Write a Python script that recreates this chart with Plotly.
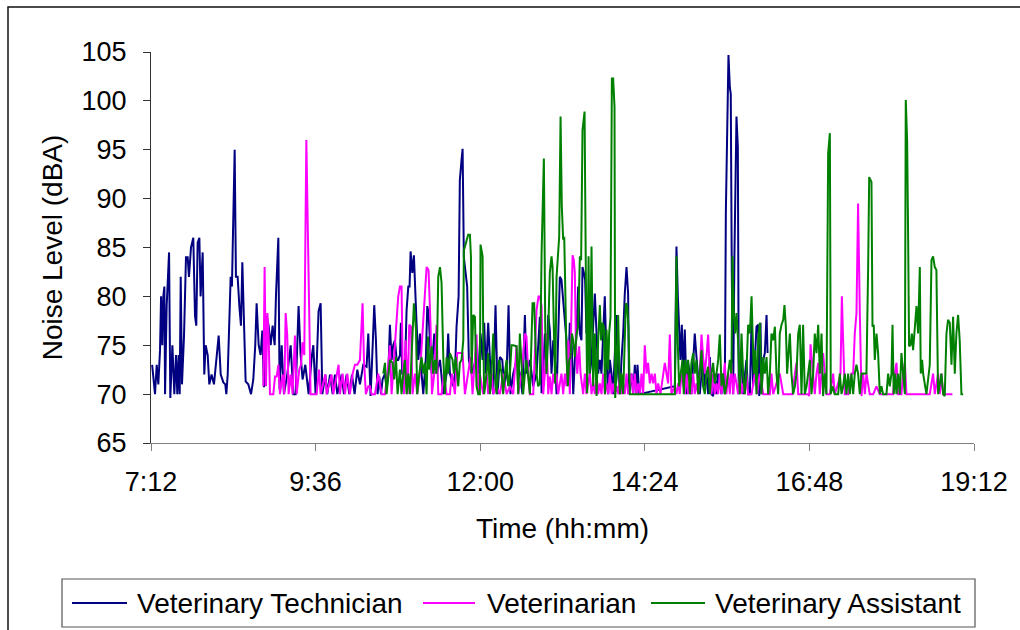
import pandas as pd
import plotly.graph_objects as go

# ---------------- data: (minute of day, dBA) ----------------
tech = [
    (433, 73), (435.5, 70), (437, 73), (438.4, 71), (439.9, 74.5), (440.8, 80), (441.9, 75), (442.8, 80),
    (443.7, 81), (444.3, 70), (445.7, 79), (447.8, 84.5), (448.9, 69.6), (450.7, 75), (452.4, 70), (453.9, 74),
    (455, 70), (456.2, 74), (457.1, 70), (458, 82), (459.1, 71), (460.9, 76), (462.6, 84), (464.1, 84),
    (465.2, 82), (467, 85), (469, 86), (470.5, 78), (471.6, 77), (472.8, 85.5), (474.3, 86), (475.4, 80),
    (477.2, 84.5), (478.6, 72), (479.8, 75), (481.6, 74), (483, 71), (485, 72), (487.1, 71), (489.4, 74),
    (491.2, 76), (493, 72), (495.3, 71.2), (497, 71), (497.9, 70), (499.1, 72), (500.2, 77.5), (501.7, 82),
    (502.8, 81), (504, 89), (505.2, 95), (506.3, 82), (507.8, 82), (509.3, 79), (510.7, 77), (511.9, 83.5),
    (513.3, 77), (514.8, 71.3), (517.1, 71), (519.5, 70), (521.5, 71.5), (523.2, 75), (524.4, 79.3), (526.2, 75),
    (527.9, 74), (529.4, 76.5), (530.8, 70.7), (533.2, 78), (534.9, 77), (536.7, 75), (538.4, 77), (540.2, 75),
    (541.3, 80), (543.4, 86), (544.5, 70.5), (546.3, 75), (548.3, 70), (551.2, 72), (554.2, 75), (556.5, 70),
    (558.5, 70), (560, 76.5), (561.1, 79), (562.9, 74), (564.6, 71.5), (567, 73), (569.9, 70), (572.8, 74),
    (574, 75), (576, 70), (578.6, 78.5), (580.4, 79.3), (581.9, 70), (584.5, 72), (586.2, 70), (588.6, 72),
    (590.9, 70), (592.9, 72), (595, 70),
    (598.8, 72), (600.8, 70), (603.1, 72), (605.5, 70), (607.8, 72), (610.1, 70), (612.5, 72.5), (614.8, 71),
    (617.7, 73), (620.6, 72.8), (622.1, 76.2), (624.1, 69.8), (625.6, 74), (627.3, 79.1), (628.8, 75.5), (630.2, 70),
    (631.7, 71.8), (633.2, 70), (634.6, 71.5), (636.7, 72.1), (638.1, 70.5), (639.6, 72.1), (641, 77.1), (642.5, 73.5),
    (643.9, 75), (645.4, 75.5), (646.9, 73.5), (648.3, 73.5), (649.8, 74), (650.6, 77.3), (651.8, 72.1), (653.3, 72.1),
    (654.4, 73.5), (655.6, 78.6), (657.1, 81), (658.2, 81), (659.1, 84.6), (660.6, 82.4), (662, 84.2), (663.2, 80),
    (664.3, 77.3), (665.8, 73.5), (667.3, 76.2), (668.7, 72.1), (670.2, 70), (672.5, 73.8), (673.7, 79), (674.8, 78.3),
    (676, 75.5), (677.5, 72.1), (679.8, 76.2), (681.8, 72.1), (684.8, 73.5), (687.7, 70), (690.6, 72.1), (692, 76.2),
    (693.5, 72.1), (696.4, 70.8), (697.9, 72.1), (699.3, 76.9), (701.1, 80), (702.2, 91.9), (703.7, 94), (704.6, 95.1),
    (705.7, 84), (707.2, 82), (708.6, 81), (710.1, 73.5), (712.4, 72.1), (715.4, 73.2), (718.3, 72.1), (720.3, 76.2),
    (722.1, 73.5), (723.5, 77.3), (725, 72.1), (727, 77.3), (729.1, 72.1), (731.4, 70), (733.4, 79.1), (735.2, 70),
    (737.2, 73.8), (739.3, 73.5), (741, 70.8), (743.1, 72.1), (744.8, 79.1), (746.5, 70), (748.9, 72.1), (751.8, 73.5),
    (754.7, 72.1), (757, 70), (759.1, 78.1), (760.5, 72.1), (763.5, 73.5), (766.4, 70.8), (769.3, 72.1),
    (772.2, 77.9), (773.7, 70.1), (775.1, 72.1), (776.6, 76.2), (778, 72.1), (779.5, 78.1), (780.9, 76.6), (782.4, 72.1),
    (783.9, 75.5), (785.3, 73.8), (786.8, 70), (788.2, 76.6), (789.7, 82), (791.1, 81.7), (792, 80.3), (793.2, 78.1),
    (794.4, 76.9), (795.5, 75.5), (797, 72.1), (798.4, 77.3), (799.9, 75.5), (801.4, 70), (802.8, 73.5), (804.3, 76.2),
    (805.7, 81), (807.2, 76.2), (808.6, 75.5), (809.5, 83), (810.7, 82.4), (811.8, 81.7), (813, 76.2), (814.5, 76.6),
    (815.9, 72.1), (817.4, 73.5), (818.8, 76.9), (820.3, 80.3), (821.8, 76.2), (823.2, 72.1), (824.7, 73.5), (826.1, 72.1),
    (827.6, 76.2), (829, 80), (830.5, 73.5), (832, 70), (833.4, 73.5), (834.9, 72.1), (836.3, 70), (837.8, 73.8),
    (839.2, 78.1), (840.7, 72.1), (842.2, 70), (843.6, 73.5), (845.1, 76.2), (846.5, 80.3), (848, 83), (849.4, 80.3),
    (850.3, 70), (852.4, 72.1), (853.8, 70), (855.3, 73), (856.7, 70), (857.6, 73), (859.1, 70),
    (890.3, 70.8), (891.7, 85.1), (892.9, 80), (894, 76.6), (895.2, 73.5), (896.4, 77.1), (897.5, 72.1), (899, 76.6),
    (900.5, 70), (901.9, 73.2), (903.4, 72.1), (904.8, 70), (906.3, 73.5), (907.7, 76.2), (909.2, 73.8), (910.7, 72.1),
    (912.1, 70), (913.6, 72.1), (915, 73.5), (916.5, 70.8), (917.9, 72.1), (919.4, 70), (920.9, 73.8), (922.3, 70),
    (923.8, 69.8), (925.2, 72.1), (926.7, 70), (928.2, 72.1), (929.6, 70.8), (931.1, 70), (932.5, 72.1), (934, 70),
    (934.9, 88.5), (936.3, 99.4), (937.2, 104.7), (938.4, 101.4), (939.2, 100.7), (940.1, 82.4), (941.3, 70), (942.4, 84.1),
    (943.6, 96), (944.2, 98.4), (945.4, 95.3), (946.2, 70), (947.1, 72.1), (948.6, 73.5), (950, 70), (951.5, 72.1),
    (952.9, 73.5), (954.4, 70),
    (955.9, 70), (957.4, 77.3), (958.8, 70.8), (960.3, 73.5), (961.7, 76.9), (963.2, 77.1), (964.1, 69.8), (965.2, 77.3),
    (966.1, 70), (967.6, 73.5), (969, 74.2), (970.5, 78.1), (971.4, 74.2),
]

vet = [
    (530.3, 70.8), (531.4, 83), (532.6, 70.8), (533.8, 78.3), (534.9, 76), (536.1, 70), (539, 70), (540.5, 71.8),
    (542, 71.8), (543.4, 73), (544.8, 70), (547.2, 72), (548.6, 70), (549.8, 78.3), (551.2, 76), (552.4, 70),
    (554.2, 72), (555.9, 70), (557.9, 76), (559.4, 70), (561.7, 72.5), (563.2, 73), (564.6, 75.3), (566.1, 74),
    (567.9, 96), (571.6, 70), (574, 70), (576.9, 70), (579, 72.5), (580.4, 70), (584.5, 72), (585.6, 70),
    (590, 72), (591.5, 70), (596.1, 73),
    (597.3, 70), (599.6, 72.1), (601.7, 70), (603.7, 72.1), (606, 70), (608.4, 72.1), (610.4, 73), (612.5, 73),
    (614.8, 73.5), (617.1, 79.3), (618.3, 73.5), (620, 70), (622.1, 70.8), (623.5, 70.8), (625, 70), (627.9, 70),
    (630.8, 72.1), (633.7, 70), (636.7, 70), (639.6, 73), (641, 75), (642.5, 70), (643.9, 72.1), (646.3, 76.6),
    (648.3, 80), (649.8, 81), (651.2, 81), (652.1, 73.5), (653.3, 70), (654.7, 75.5), (656.5, 70), (657.9, 77.1),
    (659.4, 76.9), (660.8, 70), (662.9, 72.1), (664.9, 70), (667.3, 72.1), (670.2, 77.6), (671.6, 80.3), (673.1, 83),
    (674.8, 82.7), (676.6, 76.9), (677.8, 70), (679.8, 72.1), (681.8, 77.1), (683.3, 70), (686.2, 70), (688.2, 72.1),
    (690.6, 70), (693.5, 70), (695.2, 72.1), (697.9, 70), (699.9, 74.2), (702.2, 74.2), (704.6, 74.2), (706.6, 70),
    (709.5, 72.1), (711.6, 73.8), (713.3, 70), (715.4, 73.5), (716.8, 76.1), (718.3, 70), (719.7, 72.1), (722.6, 70),
    (725.6, 72.1), (727, 70), (730, 72.1), (731.4, 70), (734.3, 70.8), (737.2, 70), (740.1, 72.1), (743.1, 70),
    (746, 70.8), (748.9, 70), (751.8, 75), (753.3, 70), (756.2, 72.1), (759.1, 76.2), (760.5, 75.9), (762, 72.1),
    (763.5, 70), (766.4, 70), (769.3, 78.6), (771, 80),
    (772.2, 80), (773.7, 79), (775.1, 70), (776.6, 72.1), (778, 76.2), (779.5, 70), (780.9, 71.8), (782.4, 70),
    (783.9, 72.1), (785.3, 71.1), (786.8, 72.1), (788.2, 70), (789.7, 71.1), (791.1, 72.1), (792.6, 70), (794.1, 72.1),
    (795.5, 70.8), (797, 75.5), (798.4, 70), (799.9, 78.3), (800.8, 84.2), (801.9, 83.7), (802.8, 82.4), (803.7, 75.5),
    (804.9, 72.1), (806.6, 74.9), (807.8, 72.1), (808.9, 71.1), (810.1, 70), (811.6, 72.1), (813, 70), (814.5, 71.1),
    (815.9, 72.1), (817.4, 70), (818.8, 71.1), (820.3, 70), (821.8, 72.1), (823.2, 70), (824.7, 71.1), (826.1, 70),
    (827.6, 72.1), (829, 70), (830.5, 71.1), (832, 70), (833.4, 72.1), (834.9, 70), (836.3, 71.1), (837.8, 70),
    (839.2, 70.8), (840.7, 70), (842.2, 72.1), (843.6, 70), (845.1, 71.1), (846.5, 70), (848, 72.1), (849.4, 70),
    (850.9, 71.1), (852.4, 72.1), (853.8, 70), (855.3, 72.1), (856.7, 70), (858.2, 71.1), (859.7, 70), (861.1, 72.1),
    (862.6, 70), (864, 75), (865.5, 72.1), (866.9, 73.2), (868.4, 71.1), (869.9, 72.1), (871.3, 71.1), (872.8, 72.1),
    (874.2, 70), (875.7, 71.1), (877.7, 70), (880.1, 72.1), (881.5, 73.2), (883, 72.1), (884.4, 71.1), (885.9, 76.1),
    (887.3, 70), (890.3, 70.8), (891.7, 70), (893.2, 71.1), (894.6, 70), (896.1, 72.1), (897.5, 71.1), (899, 70),
    (900.5, 72.1), (901.9, 70), (903.4, 71.1), (904.8, 70), (906.3, 72.1), (907.7, 70), (909.2, 71.1), (910.7, 70),
    (912.1, 72.1), (913.6, 76.1), (915, 73.8), (916.5, 72.1), (917.9, 73.8), (919.4, 76.1), (920.9, 72.1), (922.3, 70),
    (923.8, 72.1), (925.2, 70), (926.7, 71.1), (928.2, 70), (929.6, 72.1), (931.1, 70), (932.5, 71.1), (934, 73.2),
    (935.4, 70), (936.9, 72.1), (938.4, 70), (939.8, 73.2), (941.3, 70), (942.7, 72.1), (944.2, 71.1), (945.6, 70),
    (947.1, 72.1), (948.6, 70), (950, 71.1), (951.5, 70), (952.9, 72.1), (954.4, 70),
    (957.4, 70), (960.3, 72.1), (962.3, 70), (964.6, 72.1), (967.6, 70), (970.5, 70), (973.4, 70), (974.8, 72.1),
    (976.3, 70), (979.2, 71.1), (982.1, 72.1), (985.1, 70), (988, 70), (990.9, 70), (993.2, 70), (995.3, 72.1),
    (996.7, 73.2), (998.2, 70), (1001.1, 70), (1004, 70), (1006.9, 70), (1007.8, 69.8), (1009, 75.1), (1010.1, 73.5),
    (1011.3, 72.1), (1012.7, 70), (1014.2, 72.1), (1015.7, 73.2), (1017.1, 70), (1020, 74.2), (1021.5, 72.1), (1022.9, 70),
    (1025.9, 70), (1028.8, 72.1), (1030.2, 70), (1033.2, 71.1), (1035.2, 72.1), (1036.4, 80), (1037.5, 75.5), (1039, 70),
    (1041.9, 70), (1044.8, 72.1), (1046.3, 72.1), (1047.7, 76.2), (1049.2, 78.3), (1050.6, 89.5), (1052.1, 78.3), (1053.6, 69.8),
    (1055, 72.1), (1056.5, 70), (1057.9, 72.1), (1059.4, 71.1), (1060.8, 70), (1063.8, 70), (1066.7, 70.8), (1069.6, 70),
    (1072.5, 70), (1075.4, 70), (1078.3, 70), (1081.2, 70), (1082.7, 72.1), (1084.2, 73.2), (1085.6, 70), (1088.5, 70),
    (1090, 72.1), (1091.5, 73.2), (1092.9, 70), (1095.8, 70), (1098.7, 70), (1101.7, 70), (1104.6, 70), (1107.5, 70),
    (1110.4, 70), (1113.3, 70), (1116.2, 72.1), (1117.7, 70), (1120.6, 72.1), (1122.1, 70), (1123.5, 72.1), (1125, 70),
    (1127.9, 70), (1130.8, 70), (1133.1, 70),
]

assistant = [
    (635.2, 72.1), (636.7, 73.2), (638.1, 70), (639.6, 72.1), (641, 73.5), (643.4, 73.2), (644.8, 71.5), (646.3, 73.8),
    (647.7, 70), (649.8, 72.5), (651.2, 70), (652.7, 72.1), (654.1, 73.5), (655.6, 70), (657.1, 72.1), (658.5, 70),
    (660, 74.5), (662, 79.3), (663.8, 76.6), (664.9, 70), (666.7, 72.1), (668.7, 73.8), (670.2, 72.1), (671.6, 73.2),
    (673.1, 70), (674.3, 75.9), (675.4, 72.5), (677.5, 74.9), (678.9, 72.1), (680.4, 73.5), (681.8, 72.1), (683.3, 82),
    (684.8, 83), (686.2, 81.4), (687.7, 73.8), (689.1, 70), (690.6, 73.8), (692, 72.1), (693.5, 74.2), (695.8, 73.5),
    (697, 72.1), (698.7, 73.8), (700.8, 70.8), (702.2, 73.2), (703.7, 73.5), (705.2, 75.5), (705.7, 84.7), (707.5, 85.4),
    (709.5, 86.3), (711, 86.3), (711.9, 84.1), (712.4, 72.1), (713.9, 78.1), (715.4, 77.9), (716.8, 70.8), (718.3, 70),
    (719.7, 70), (720.3, 85.3), (722.1, 84.1), (722.6, 76.6), (723.5, 70), (725.6, 72.1), (727, 74.2), (728.5, 70),
    (729.9, 72.1), (731.4, 76.2), (732.8, 72.1), (734.3, 70), (736.6, 73.5), (738.7, 72.1), (740.1, 70), (741.6, 72.1),
    (743.1, 73.5), (744.5, 70.8), (746, 72.1), (747.4, 75), (748.9, 75), (751.8, 74.9), (753.3, 70), (754.7, 76.2),
    (756.2, 72.1), (757.6, 70), (759.1, 72.1), (760.5, 73.5), (763.5, 70), (765.8, 79.3), (767.2, 79.3), (769.3, 72.1),
    (770.7, 70.8),
    (772.2, 71.1), (773.7, 84.4), (775.7, 94.1), (776.9, 76.9), (778, 72.1), (779.5, 76.2), (780.9, 82.4), (782.4, 84.1),
    (783.3, 83), (784.4, 76.9), (785.6, 71.1), (786.8, 82), (788.2, 84.1), (789.1, 86.1), (790.3, 98.4), (791.4, 89.2),
    (792.6, 85.8), (793.5, 86.1), (794.4, 81), (795.5, 73.8), (796.7, 70.8), (797.9, 73.5), (799, 73.8), (800.2, 76.2),
    (801.4, 75.5), (802.8, 73.8), (804.3, 76.2), (805.7, 76.9), (807.2, 84.1), (808.3, 83.7), (809.5, 97), (811.3, 98.9),
    (812.4, 82.7), (813.6, 70.1), (814.8, 84.1), (815.9, 72.1), (817.4, 85.1), (818.8, 70.8), (820.3, 76.2), (821.8, 69.8),
    (823.2, 75.5), (824.7, 79.1), (825.8, 75.5), (827, 77.3), (828.2, 76.9), (829.3, 70), (830.5, 76.6), (832, 72.5),
    (832.8, 76.2), (834, 77.9), (835.2, 102.3), (836.3, 102.3), (837.5, 99.4), (838.1, 69.6), (839.2, 72.1), (840.7, 78.1),
    (842.2, 70), (843.6, 72.1), (845.1, 70), (846.5, 76.6), (847.4, 79.3), (848.6, 79), (849.7, 76.9), (850.9, 70),
    (890.3, 70), (891.7, 84.1), (892.6, 76.2), (894, 70.8), (895.2, 72.1), (897, 73.5), (898.1, 70), (899.3, 73.5),
    (900.5, 72.1), (901.9, 73.5), (903.4, 70), (904.8, 73.2), (906.3, 74.2), (907.7, 72.1), (909.2, 73.5), (910.7, 70),
    (912.1, 72.1), (913.6, 74.5), (915, 70.8), (916.5, 70), (917.9, 72.1), (919.4, 72.8), (920.9, 70), (922.3, 72.1),
    (923.8, 73.2), (925.2, 71.1), (926.7, 72.1), (928.2, 73.5), (929.6, 76.1), (931.1, 70.8), (932.5, 72.1), (934, 70),
    (935.4, 70.8), (936.9, 72.1), (938.4, 73.5), (939.8, 72.1), (940.7, 84.1), (941.9, 78.3), (943, 76.2), (944.2, 78.3),
    (945.6, 75.5), (947.1, 70), (948.6, 76.2), (950, 72.1), (951.5, 70), (952.9, 72.1), (954.4, 77.1),
    (955.9, 76.2), (957.4, 80), (958.2, 76.6), (959.4, 72.1), (960.6, 74.5), (961.7, 70), (963.2, 75.5), (964.6, 77.3),
    (966.1, 70), (967.6, 73.8), (969, 72.1), (970.5, 73.8), (971.9, 70), (973.4, 72.1), (974.8, 76.2), (976.3, 75.5),
    (977.8, 76.9), (979.2, 72.1), (980.7, 70), (982.1, 76.2), (983.6, 77.1), (985.1, 77.6), (986.2, 79.1), (987.4, 76.9),
    (988.5, 72.1), (989.7, 74.2), (990.9, 76.2), (992.3, 72.1), (993.8, 70), (995.3, 70.8), (996.7, 72.1), (998.2, 76.2),
    (999.6, 77.1), (1001.1, 70), (1002.5, 77.1), (1004, 70), (1005.5, 70.8), (1006.9, 72.1), (1008.4, 73.5), (1009.8, 70),
    (1011.3, 72.1), (1012.7, 76.2), (1014.2, 74.2), (1015.7, 77.1), (1017.1, 72.1), (1018.6, 76.2), (1020, 69.8), (1021.5, 72.1),
    (1022.9, 70), (1024.4, 94.6), (1025.9, 96.7), (1026.7, 70), (1028.2, 70.8), (1030.2, 70), (1033.2, 70), (1034.6, 72.1),
    (1036.1, 70), (1037.5, 70.8), (1039, 72.1), (1040.4, 70), (1041.9, 72.1), (1043.4, 70), (1044.8, 72.1), (1046.3, 70),
    (1047.7, 72.1), (1049.2, 73), (1050.6, 72.1), (1052.1, 70), (1053.6, 72.1), (1056.5, 72.1), (1057.9, 72.1), (1059.4, 83),
    (1060.3, 92.2), (1061.4, 91.9), (1062.3, 91.7), (1063.2, 76.9), (1064.3, 77.1), (1065.2, 73.5), (1066.7, 76.2), (1068.1, 74.2),
    (1069.6, 70), (1071, 70.8), (1072.5, 70), (1075.4, 70), (1076.9, 72.1), (1078.3, 70.8), (1079.8, 72.1), (1080.7, 77.1),
    (1081.8, 70), (1083, 72.1), (1084.2, 70), (1085.6, 72.1), (1087.1, 70), (1088.5, 74.2), (1090, 72.1), (1091.5, 70),
    (1092.3, 100.1), (1093.5, 96), (1094.4, 85.8), (1095.2, 74.9), (1096.4, 75), (1097.6, 76.2), (1098.7, 74.5), (1100.2, 76.9),
    (1101.7, 79), (1103.1, 76.2), (1104.6, 83), (1105.4, 72.1), (1106.6, 73.5), (1107.5, 72.1), (1108.9, 71.1), (1110.4, 70),
    (1113.3, 73), (1114.8, 83.7), (1116.2, 84.1), (1117.7, 83), (1119.1, 82.7), (1120.6, 70), (1123.5, 72.1), (1125, 70),
    (1126.4, 69.8), (1127.9, 76.2), (1129.3, 77.6), (1130.8, 77.3), (1132.3, 73), (1133.7, 77.9), (1135.2, 72.1), (1136.6, 76.2),
    (1138.1, 78.1), (1139.5, 75.5), (1141, 70), (1142.5, 70),
]

series_names = ["Veterinary Technician", "Veterinarian", "Veterinary Assistant"]
series_colors = ["#000080", "#FF00FF", "#008000"]
tick_labels = ["7:12", "9:36", "12:00", "14:24", "16:48", "19:12"]
tick_minutes = [432, 576, 720, 864, 1008, 1152]
y_ticks = [65, 70, 75, 80, 85, 90, 95, 100, 105]

BASE = pd.Timestamp("2000-01-01")


def to_time(mins):
    return [BASE + pd.Timedelta(minutes=float(m)) for m in mins]


FONT = "Liberation Sans, Arial, sans-serif"
W, H = 1020, 630
ML, MR, MT, MB = 151, 46, 52, 187
PW, PH = W - ML - MR, H - MT - MB


def px_x(px):
    return (px - ML) / PW


def px_y(py):
    return (H - MB - py) / PH


fig = go.Figure()
for data, name, color in zip([tech, vet, assistant], series_names, series_colors):
    mins = [d[0] for d in data]
    vals = [d[1] for d in data]
    fig.add_trace(go.Scatter(x=to_time(mins), y=vals, mode="lines", name=name,
                             line=dict(color=color, width=2), showlegend=False))

fig.update_layout(
    width=W, height=H,
    margin=dict(l=ML, r=MR, t=MT, b=MB),
    paper_bgcolor="white", plot_bgcolor="white",
    font=dict(family=FONT, size=27, color="black"),
)
fig.update_xaxes(
    type="date",
    range=to_time([tick_minutes[0], tick_minutes[-1]]),
    tickvals=to_time(tick_minutes), ticktext=tick_labels,
    showgrid=False, zeroline=False,
    showline=True, linecolor="#808080", linewidth=1,
    ticks="outside", ticklen=7, tickcolor="#808080",
    ticklabelstandoff=8,
    title=dict(text="Time (hh:mm)", standoff=21, font=dict(size=28)),
)
fig.update_yaxes(
    range=[65, 105], tickvals=y_ticks,
    showgrid=False, zeroline=False,
    showline=True, linecolor="#333333", linewidth=1,
    ticks="outside", ticklen=7, tickcolor="#333333",
    ticklabelstandoff=11,
    title=dict(text="Noise Level (dBA)", standoff=10, font=dict(size=28)),
)

# chart frame
fig.add_shape(type="rect", xref="paper", yref="paper",
              x0=px_x(8), x1=px_x(1030), y0=px_y(640), y1=px_y(7),
              line=dict(color="#111111", width=1.5))

# legend box, sample lines and labels
fig.add_shape(type="rect", xref="paper", yref="paper",
              x0=px_x(62), x1=px_x(975), y0=px_y(627), y1=px_y(579),
              line=dict(color="#555555", width=1.2), fillcolor="white")
legend_lines = [(72, 127), (423, 475), (651, 705)]
legend_text_x = [135, 485, 713]
for (a, b), tx, name, color in zip(legend_lines, legend_text_x, series_names, series_colors):
    fig.add_shape(type="line", xref="paper", yref="paper",
                  x0=px_x(a), x1=px_x(b), y0=px_y(603), y1=px_y(603),
                  line=dict(color=color, width=2))
    fig.add_annotation(xref="paper", yref="paper", x=px_x(tx), y=px_y(603),
                       text=name, showarrow=False, xanchor="left", yanchor="middle",
                       font=dict(family=FONT, size=28, color="black"))

fig.write_html("out.html")
